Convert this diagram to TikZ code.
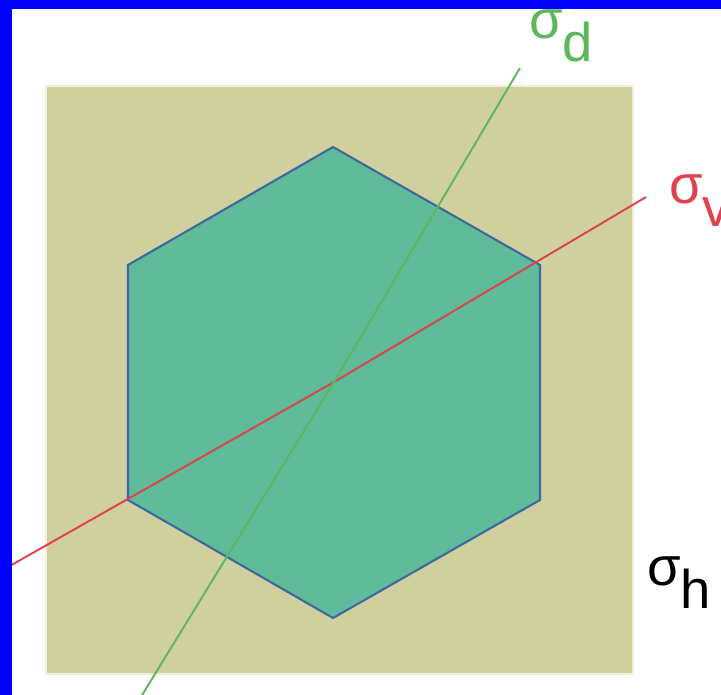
\documentclass[tikz,border=0pt]{standalone}
\usepackage{fontspec}
\setmainfont{Liberation Sans}
\usetikzlibrary{calc}
\definecolor{frameblue}{HTML}{0000FF}
\definecolor{plane}{HTML}{D0CF9E}
\definecolor{planeedge}{HTML}{EEEEDC}
\definecolor{hexfill}{HTML}{5FBB9A}
\definecolor{hexedge}{HTML}{3F6A9F}
\definecolor{mirrorv}{HTML}{E0434F}
\definecolor{mirrord}{HTML}{5CB85A}
\tikzset{
  planebox/.style={fill=plane,draw=planeedge,line width=1.4pt},
  hexagon/.style={fill=hexfill,draw=hexedge,line width=1.2pt,line join=miter},
  mirror/.style={line width=1.1pt},
  symlabel/.style={inner sep=0pt,anchor=base west,font=\fontsize{31}{31}\selectfont}
}
\newcommand{\lowsub}[1]{\raisebox{-0.45cm}{#1}}

\begin{document}
\begin{tikzpicture}[x=0.02cm,y=-0.02cm]
  \useasboundingbox (0,0) rectangle (721,695);
  \fill[white] (0,0) rectangle (721,695);
  \draw[planebox] (46,86) rectangle (633,674);
  \coordinate (c) at (334,382);
  \draw[hexagon] (333,147) -- (540,265) -- (540,500) -- (333,618) -- (128,500) -- (128,265) -- cycle;
  \coordinate (v1) at (8,567);
  \coordinate (v2) at (646,197);
  \coordinate (d1) at (520,68);
  \coordinate (d2) at (136,705);
  \draw[mirror,mirrorv] (v1) -- (c) -- (v2);
  \draw[mirror,mirrord] (d1) -- (c) -- (d2);
  \node[symlabel,text=mirrord] (sd) at (529,39) {σ\lowsub{d}};
  \node[symlabel,text=mirrorv] (sv) at (669,204) {σ\lowsub{v}};
  \node[symlabel,text=black] (sh) at (647,586) {σ\lowsub{h}};
  \fill[frameblue] (0,0) rectangle (721,9);
  \fill[frameblue] (0,0) rectangle (12,695);
\end{tikzpicture}
\end{document}
